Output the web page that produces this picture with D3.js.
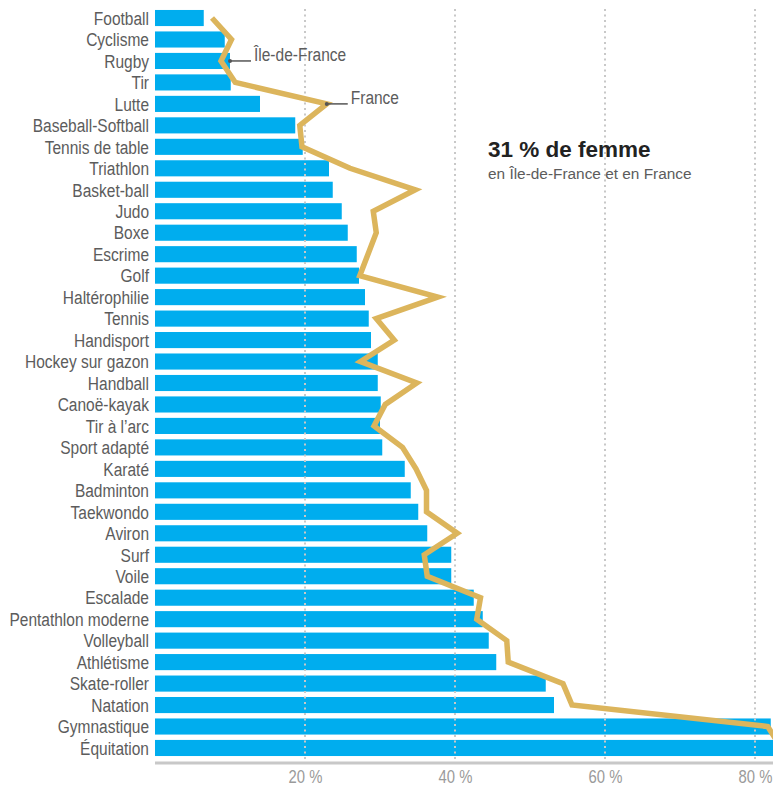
<!DOCTYPE html>
<html>
<head>
<meta charset="utf-8">
<script src="https://cdn.jsdelivr.net/npm/d3@7"></script>
<style>
  body { margin: 0; background: #fff; }
  svg text { font-family: "Liberation Sans", Arial, sans-serif; }
</style>
</head>
<body>
<svg id="chart"></svg>
<script>
// sports, sorted by share of women in Île-de-France
const sports = ["Football", "Cyclisme", "Rugby", "Tir", "Lutte", "Baseball-Softball",
    "Tennis de table", "Triathlon", "Basket-ball", "Judo", "Boxe", "Escrime", "Golf",
    "Haltérophilie", "Tennis", "Handisport", "Hockey sur gazon", "Handball", "Canoë-kayak",
    "Tir à l’arc", "Sport adapté", "Karaté", "Badminton", "Taekwondo", "Aviron", "Surf",
    "Voile", "Escalade", "Pentathlon moderne", "Volleyball", "Athlétisme", "Skate-roller",
    "Natation", "Gymnastique", "Équitation"];

// % de femmes, Île-de-France (bars)
const idf = [6.5, 9.3, 10.0, 10.1, 14.0, 18.7, 19.7, 23.2, 23.7, 24.9, 25.7, 26.9, 27.2,
    28.0, 28.5, 28.8, 29.7, 29.7, 30.1, 30.0, 30.3, 33.3, 34.1, 35.1, 36.3, 39.5, 39.5,
    42.5, 43.7, 44.5, 45.5, 52.1, 53.2, 82.1, 84.0];

// % de femmes, France (line)
const france = [7.6, 10.2, 8.8, 10.7, 22.9, 19.3, 19.6, 26.0, 34.7, 29.1, 29.5, 28.4, 27.3,
    37.7, 29.5, 31.9, 27.4, 34.9, 30.7, 29.2, 33.0, 34.8, 36.2, 36.2, 40.3, 35.9, 36.3,
    43.4, 42.9, 46.9, 47.1, 54.4, 55.6, 81.7, 83.5];

const ticks = [20, 40, 60, 80];

const width = 773, height = 787;
const narrow = 0.825; // the labels use a condensed face

const svg = d3.select("#chart")
    .attr("width", width)
    .attr("height", height);

const x = d3.scaleLinear()
    .domain([0, 80])
    .range([155, 755]);

const y = d3.scaleBand()
    .domain(sports)
    .range([4.6, 761.4])
    .padding(0.25);

const mid = d => y(d) + y.bandwidth() / 2;

// bars
svg.append("g")
    .selectAll("rect")
    .data(sports)
    .join("rect")
    .attr("x", x(0))
    .attr("y", d => y(d))
    .attr("width", (d, i) => x(idf[i]) - x(0))
    .attr("height", y.bandwidth())
    .attr("fill", "#00adee");

// dotted grid, drawn over the bars
svg.append("g")
    .selectAll("line")
    .data(ticks)
    .join("line")
    .attr("x1", d => x(d))
    .attr("x2", d => x(d))
    .attr("y1", 9)
    .attr("y2", 762)
    .attr("stroke", "#c8c8c8")
    .attr("stroke-width", 2)
    .attr("stroke-dasharray", "2,3.5");

// bottom axis
const xAxis = d3.axisBottom(x)
    .tickValues(ticks)
    .tickSize(0)
    .tickPadding(8)
    .tickFormat(d => d + " %");

const axisG = svg.append("g")
    .attr("transform", `translate(0,${762})`)
    .call(xAxis);
axisG.select(".domain").remove();
axisG.selectAll("text")
    .attr("fill", "#9a9a9a")
    .attr("font-size", 17.7)
    .attr("font-family", null)
    .attr("transform", "scale(0.84,1)");

svg.append("line")
    .attr("x1", x(0))
    .attr("x2", width)
    .attr("y1", 763)
    .attr("y2", 763)
    .attr("stroke", "#c8c8c8")
    .attr("stroke-width", 3);

// France line
const line = d3.line()
    .x((d, i) => x(france[i]))
    .y(d => mid(d));

svg.append("path")
    .datum(sports)
    .attr("d", line)
    .attr("fill", "none")
    .attr("stroke", "#dcb55c")
    .attr("stroke-width", 5.5)
    .attr("stroke-linejoin", "miter");

// category labels
svg.append("g")
    .selectAll("text")
    .data(sports)
    .join("text")
    .attr("transform", d => `translate(149,${mid(d)}) scale(${narrow},1)`)
    .attr("dy", "0.36em")
    .attr("text-anchor", "end")
    .attr("font-size", 18.8)
    .attr("fill", "#5c5c5c")
    .text(d => d);

// series annotations
function annotate(cx, cy, label) {
    const g = svg.append("g");
    g.append("line")
        .attr("x1", cx)
        .attr("x2", cx + 21)
        .attr("y1", cy)
        .attr("y2", cy)
        .attr("stroke", "#555")
        .attr("stroke-width", 1.5);
    g.append("circle")
        .attr("cx", cx)
        .attr("cy", cy)
        .attr("r", 2)
        .attr("fill", "#555");
    g.append("text")
        .attr("transform", `translate(${cx + 24},${cy + 0.5}) scale(${narrow},1)`)
        .attr("font-size", 18.8)
        .attr("fill", "#5c5c5c")
        .text(label);
}
annotate(x(idf[2]), mid(sports[2]), "Île-de-France");
annotate(x(france[4]), mid(sports[4]), "France");

// headline
svg.append("text")
    .attr("x", 488)
    .attr("y", 157)
    .attr("font-size", 22.5)
    .attr("font-weight", "bold")
    .attr("fill", "#222")
    .text("31 % de femme");

svg.append("text")
    .attr("x", 488)
    .attr("y", 178.5)
    .attr("font-size", 15.4)
    .attr("fill", "#5c5c5c")
    .text("en Île-de-France et en France");
</script>
</body>
</html>
